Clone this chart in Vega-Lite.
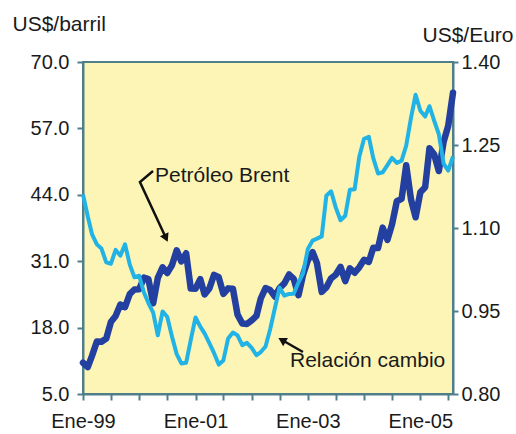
{
  "$schema": "https://vega.github.io/schema/vega-lite/v6.json",
  "width": 370,
  "height": 332,
  "autosize": "none",
  "padding": {"left": 83, "top": 62, "right": 63, "bottom": 40},
  "background": "white",
  "config": {
    "view": {"fill": "#fcf5b6", "stroke": "#4f7f8a", "strokeWidth": 2},
    "font": "Liberation Sans",
    "axis": {
      "domainColor": "#4f7f8a", "domainWidth": 2,
      "tickColor": "#4f7f8a", "tickWidth": 2,
      "labelFont": "Liberation Sans", "labelFontSize": 20, "labelColor": "#1a1a1a",
      "titleFont": "Liberation Sans", "titleFontSize": 21, "titleFontWeight": "normal", "titleColor": "#1a1a1a",
      "grid": false
    }
  },
  "datasets": {
    "series": [
      {"fecha": "1999-01-01", "brent": 11.12, "euro": 1.1608},
      {"fecha": "1999-02-01", "brent": 10.27, "euro": 1.1208},
      {"fecha": "1999-03-01", "brent": 12.51, "euro": 1.0883},
      {"fecha": "1999-04-01", "brent": 15.29, "euro": 1.0704},
      {"fecha": "1999-05-01", "brent": 15.23, "euro": 1.0628},
      {"fecha": "1999-06-01", "brent": 15.86, "euro": 1.0378},
      {"fecha": "1999-07-01", "brent": 19.08, "euro": 1.0353},
      {"fecha": "1999-08-01", "brent": 20.27, "euro": 1.0604},
      {"fecha": "1999-09-01", "brent": 22.52, "euro": 1.0501},
      {"fecha": "1999-10-01", "brent": 22.00, "euro": 1.0706},
      {"fecha": "1999-11-01", "brent": 24.58, "euro": 1.0338},
      {"fecha": "1999-12-01", "brent": 25.47, "euro": 1.0110},
      {"fecha": "2000-01-01", "brent": 25.51, "euro": 1.0137},
      {"fecha": "2000-02-01", "brent": 27.78, "euro": 0.9834},
      {"fecha": "2000-03-01", "brent": 27.49, "euro": 0.9643},
      {"fecha": "2000-04-01", "brent": 22.76, "euro": 0.9470},
      {"fecha": "2000-05-01", "brent": 27.74, "euro": 0.9060},
      {"fecha": "2000-06-01", "brent": 29.80, "euro": 0.9492},
      {"fecha": "2000-07-01", "brent": 28.68, "euro": 0.9397},
      {"fecha": "2000-08-01", "brent": 30.20, "euro": 0.9041},
      {"fecha": "2000-09-01", "brent": 33.14, "euro": 0.8721},
      {"fecha": "2000-10-01", "brent": 30.96, "euro": 0.8552},
      {"fecha": "2000-11-01", "brent": 32.55, "euro": 0.8564},
      {"fecha": "2000-12-01", "brent": 25.66, "euro": 0.8973},
      {"fecha": "2001-01-01", "brent": 25.62, "euro": 0.9383},
      {"fecha": "2001-02-01", "brent": 27.50, "euro": 0.9217},
      {"fecha": "2001-03-01", "brent": 24.50, "euro": 0.9095},
      {"fecha": "2001-04-01", "brent": 25.66, "euro": 0.8920},
      {"fecha": "2001-05-01", "brent": 28.31, "euro": 0.8742},
      {"fecha": "2001-06-01", "brent": 27.85, "euro": 0.8532},
      {"fecha": "2001-07-01", "brent": 24.61, "euro": 0.8607},
      {"fecha": "2001-08-01", "brent": 25.68, "euro": 0.9005},
      {"fecha": "2001-09-01", "brent": 25.62, "euro": 0.9111},
      {"fecha": "2001-10-01", "brent": 20.54, "euro": 0.9059},
      {"fecha": "2001-11-01", "brent": 18.80, "euro": 0.8883},
      {"fecha": "2001-12-01", "brent": 18.71, "euro": 0.8924},
      {"fecha": "2002-01-01", "brent": 19.42, "euro": 0.8833},
      {"fecha": "2002-02-01", "brent": 20.28, "euro": 0.8700},
      {"fecha": "2002-03-01", "brent": 23.70, "euro": 0.8758},
      {"fecha": "2002-04-01", "brent": 25.73, "euro": 0.8858},
      {"fecha": "2002-05-01", "brent": 25.35, "euro": 0.9170},
      {"fecha": "2002-06-01", "brent": 24.08, "euro": 0.9554},
      {"fecha": "2002-07-01", "brent": 25.74, "euro": 0.9922},
      {"fecha": "2002-08-01", "brent": 26.65, "euro": 0.9778},
      {"fecha": "2002-09-01", "brent": 28.40, "euro": 0.9808},
      {"fecha": "2002-10-01", "brent": 27.54, "euro": 0.9811},
      {"fecha": "2002-11-01", "brent": 24.34, "euro": 1.0014},
      {"fecha": "2002-12-01", "brent": 28.33, "euro": 1.0183},
      {"fecha": "2003-01-01", "brent": 31.18, "euro": 1.0622},
      {"fecha": "2003-02-01", "brent": 32.77, "euro": 1.0773},
      {"fecha": "2003-03-01", "brent": 30.61, "euro": 1.0807},
      {"fecha": "2003-04-01", "brent": 25.00, "euro": 1.0848},
      {"fecha": "2003-05-01", "brent": 25.86, "euro": 1.1582},
      {"fecha": "2003-06-01", "brent": 27.65, "euro": 1.1663},
      {"fecha": "2003-07-01", "brent": 28.35, "euro": 1.1372},
      {"fecha": "2003-08-01", "brent": 29.89, "euro": 1.1139},
      {"fecha": "2003-09-01", "brent": 27.11, "euro": 1.1222},
      {"fecha": "2003-10-01", "brent": 29.61, "euro": 1.1692},
      {"fecha": "2003-11-01", "brent": 28.75, "euro": 1.1702},
      {"fecha": "2003-12-01", "brent": 29.81, "euro": 1.2286},
      {"fecha": "2004-01-01", "brent": 31.28, "euro": 1.2613},
      {"fecha": "2004-02-01", "brent": 30.86, "euro": 1.2646},
      {"fecha": "2004-03-01", "brent": 33.63, "euro": 1.2262},
      {"fecha": "2004-04-01", "brent": 33.59, "euro": 1.1985},
      {"fecha": "2004-05-01", "brent": 37.57, "euro": 1.2007},
      {"fecha": "2004-06-01", "brent": 35.18, "euro": 1.2138},
      {"fecha": "2004-07-01", "brent": 38.22, "euro": 1.2266},
      {"fecha": "2004-08-01", "brent": 42.74, "euro": 1.2176},
      {"fecha": "2004-09-01", "brent": 43.20, "euro": 1.2218},
      {"fecha": "2004-10-01", "brent": 49.78, "euro": 1.2490},
      {"fecha": "2004-11-01", "brent": 43.11, "euro": 1.2991},
      {"fecha": "2004-12-01", "brent": 39.60, "euro": 1.3408},
      {"fecha": "2005-01-01", "brent": 44.51, "euro": 1.3119},
      {"fecha": "2005-02-01", "brent": 45.48, "euro": 1.3014},
      {"fecha": "2005-03-01", "brent": 53.10, "euro": 1.3201},
      {"fecha": "2005-04-01", "brent": 51.88, "euro": 1.2938},
      {"fecha": "2005-05-01", "brent": 48.65, "euro": 1.2694},
      {"fecha": "2005-06-01", "brent": 54.35, "euro": 1.2165},
      {"fecha": "2005-07-01", "brent": 57.52, "euro": 1.2037},
      {"fecha": "2005-08-01", "brent": 63.98, "euro": 1.2292}
    ],
    "etiquetas": [
      {"fecha": "2000-04-13", "brent": 46.5, "texto": "Petróleo Brent"},
      {"fecha": "2002-09-07", "brent": 10.3, "texto": "Relación cambio"}
    ],
    "flechas": [
      {"flecha": "brent", "orden": 1, "fecha": "2000-03-31", "brent": 48.66},
      {"flecha": "brent", "orden": 2, "fecha": "2000-01-06", "brent": 46.5},
      {"flecha": "brent", "orden": 3, "fecha": "2000-06-23", "brent": 35.54},
      {"flecha": "cambio", "orden": 1, "fecha": "2002-11-30", "brent": 13.22},
      {"flecha": "cambio", "orden": 2, "fecha": "2002-07-17", "brent": 15.57}
    ],
    "puntaBrent": [{"fecha": "2000-06-23", "brent": 35.54}],
    "puntaCambio": [{"fecha": "2002-07-17", "brent": 15.57}]
  },
  "encoding": {
    "x": {
      "field": "fecha", "type": "temporal",
      "scale": {"type": "utc", "domain": [{"year": 1999, "month": 1, "date": 1, "utc": true}, {"year": 2005, "month": 8, "date": 1, "utc": true}], "nice": false},
      "axis": {
        "title": null,
        "tickCount": {"interval": "month", "step": 6},
        "tickSize": 6,
        "labelPadding": 11,
        "labelFlush": false,
        "labelOverlap": false,
        "labelExpr": "(utcmonth(datum.value) == 0 && utcyear(datum.value) % 2 == 1) ? 'Ene-' + utcFormat(datum.value, '%y') : ''"
      }
    }
  },
  "layer": [
    {
      "encoding": {
        "y": {
          "field": "brent", "type": "quantitative",
          "scale": {"domain": [5, 70], "nice": false, "zero": false},
          "axis": {
            "title": "US$/barril",
            "values": [5, 18, 31, 44, 57, 70],
            "format": ".1f",
            "tickSize": 6,
            "labelPadding": 8,
            "titleAngle": 0,
            "titleAlign": "left",
            "titleBaseline": "alphabetic",
            "titleX": -71,
            "titleY": -32
          }
        }
      },
      "layer": [
        {
          "data": {"name": "series"},
          "mark": {"type": "line", "color": "#233f9f", "strokeWidth": 6.5, "strokeJoin": "round", "strokeCap": "round"}
        },
        {
          "data": {"name": "flechas"},
          "mark": {"type": "line", "color": "#111111", "strokeWidth": 2.5},
          "encoding": {
            "detail": {"field": "flecha"},
            "order": {"field": "orden"}
          }
        },
        {
          "data": {"name": "puntaBrent"},
          "mark": {"type": "point", "shape": "triangle-up", "filled": true, "color": "#111111", "size": 90, "angle": 155, "opacity": 1}
        },
        {
          "data": {"name": "puntaCambio"},
          "mark": {"type": "point", "shape": "triangle-up", "filled": true, "color": "#111111", "size": 90, "angle": 300, "opacity": 1}
        },
        {
          "data": {"name": "etiquetas"},
          "mark": {"type": "text", "align": "left", "baseline": "alphabetic", "fontSize": 21, "font": "Liberation Sans", "color": "#1a1a1a"},
          "encoding": {
            "text": {"field": "texto"}
          }
        }
      ]
    },
    {
      "data": {"name": "series"},
      "mark": {"type": "line", "color": "#22b3e6", "strokeWidth": 4, "strokeJoin": "round"},
      "encoding": {
        "y": {
          "field": "euro", "type": "quantitative",
          "scale": {"domain": [0.8, 1.4], "nice": false, "zero": false},
          "axis": {
            "orient": "right",
            "title": "US$/Euro",
            "values": [0.8, 0.95, 1.1, 1.25, 1.4],
            "format": ".2f",
            "tickSize": 5,
            "labelPadding": 3,
            "titleAngle": 0,
            "titleAlign": "left",
            "titleBaseline": "alphabetic",
            "titleX": -31,
            "titleY": -21
          }
        }
      }
    }
  ],
  "resolve": {"scale": {"y": "independent"}}
}
